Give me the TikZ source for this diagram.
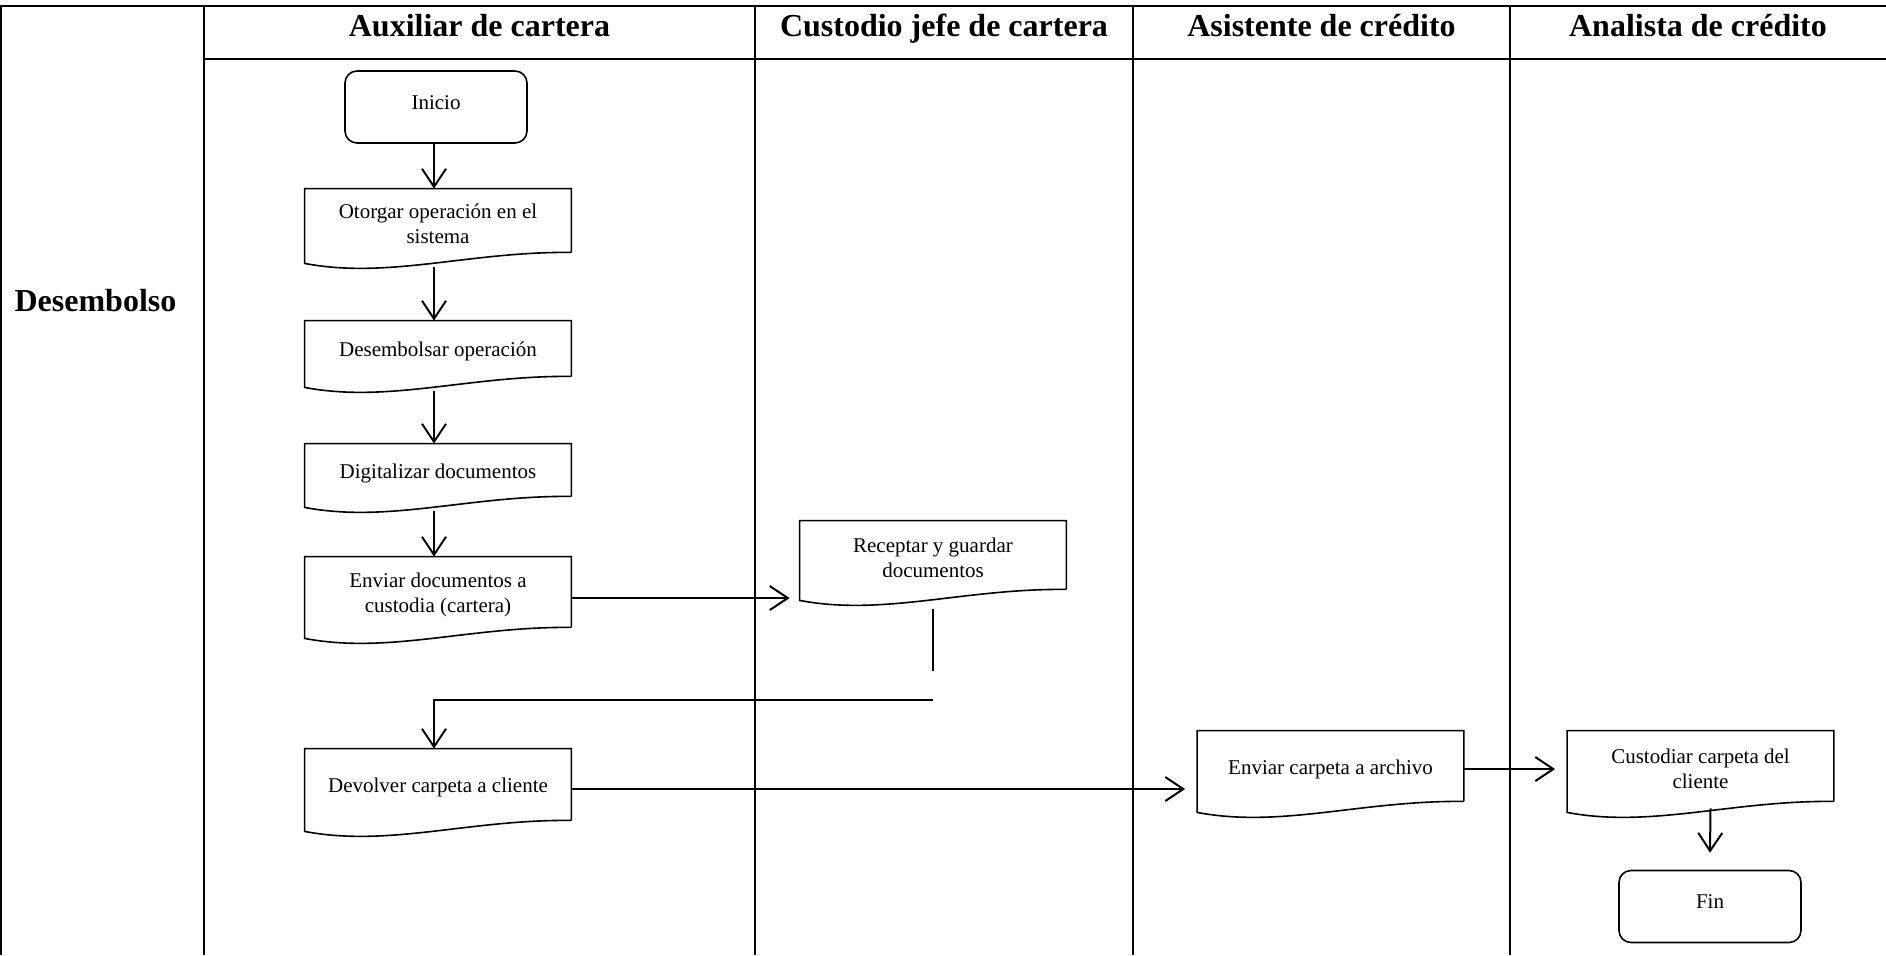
\documentclass[tikz,border=0pt]{standalone}
\usepackage{fontspec}
\setmainfont{Liberation Serif}
\usetikzlibrary{arrows.meta,calc}

% Document symbol: straight top and sides, wavy bottom edge.
% The text sits 1.5pt below the middle of the frame, so the frame is
% drawn 1.5pt above the node's own box.
\newcommand\docoutline[1]{%
  \draw[docline] ([yshift=1.5pt]#1.south east) -- ([yshift=1.5pt]#1.north east)
    -- ([yshift=1.5pt]#1.north west)
    -- ([yshift=-4pt]#1.south west)
    .. controls ([xshift=42pt,yshift=-12pt]#1.south west)
       and ([xshift=82pt,yshift=2pt]#1.south west) .. ([yshift=1.5pt]#1.south east);}

\begin{document}
\begin{tikzpicture}[x=0.5pt,y=-0.5pt,
  gridline/.style={line width=1pt},
  lanehead/.style={font=\bfseries\fontsize{16}{18}\selectfont, anchor=base},
  txt/.style={font=\fontsize{10.5}{12.5}\selectfont, align=flush center,
    inner sep=0pt},
  docbox/.style={txt, text width=112pt, minimum width=133pt, yshift=-1.5pt},
  docline/.style={line width=0.8pt},
  term/.style={txt, draw, rounded corners=6pt, line width=0.8pt,
    text height=8pt, text depth=6pt, minimum width=91pt, minimum height=36pt},
  flow/.style={line width=1pt, -{Straight Barb[length=9pt,width=12pt]}},
  plain/.style={line width=1pt}]

\useasboundingbox (0,0) rectangle (1886,955);

% swimlane table
\draw[gridline] (1,955) -- (1,6) -- (1886,6);
\draw[gridline] (204,59) -- (1886,59);
\foreach \xx in {204,755,1133,1510}
  \draw[gridline] (\xx,6) -- (\xx,955);

\node[lanehead] (hA) at (479.5,36) {Auxiliar de cartera};
\node[lanehead] (hB) at (944,36) {Custodio jefe de cartera};
\node[lanehead] (hC) at (1321.5,36) {Asistente de crédito};
\node[lanehead] (hD) at (1698,36) {Analista de crédito};
\node[lanehead] (phase) at (95.5,311.5) {Desembolso};

% process steps
\node[term] (ini) at (436,107) {Inicio};
\node[docbox, minimum height=31.5pt] (otg) at (438,220.5) {Otorgar operación en el sistema};
\node[docbox, minimum height=27.5pt] (des) at (438,348.5) {Desembolsar operación};
\node[docbox, minimum height=26pt] (dig) at (438,470) {Digitalizar documentos};
\node[docbox, minimum height=35pt] (env) at (438,592) {Enviar documentos a custodia (cartera)};
\node[docbox, minimum height=34pt] (rec) at (933,555) {Receptar y guardar documentos};
\node[docbox, minimum height=35.5pt] (dev) at (438,784.5) {Devolver carpeta a cliente};
\node[docbox, minimum height=35pt] (arc) at (1330.5,766) {Enviar carpeta a archivo};
\node[docbox, minimum height=35pt] (cus) at (1700.5,766) {Custodiar carpeta del cliente};
\node[term] (fin) at (1710,906.5) {Fin};

\foreach \n in {otg,des,dig,env,rec,dev,arc,cus}
  \docoutline{\n};

% connectors
\draw[flow] ([xshift=-1pt]ini.south) -- ([xshift=-2pt,yshift=1.5pt]otg.north);
\draw[flow] ([xshift=-2pt,yshift=-6pt]otg.south) -- ([xshift=-2pt,yshift=1.5pt]des.north);
\draw[flow] ([xshift=-2pt,yshift=-6pt]des.south) -- ([xshift=-2pt,yshift=1.5pt]dig.north);
\draw[flow] ([xshift=-2pt,yshift=-6pt]dig.south) -- ([xshift=-2pt,yshift=1.5pt]env.north);
\draw[flow] ([yshift=-1.5pt]env.east) -- ([xshift=-5pt,yshift=-1.5pt]env.east -| rec.west);
\draw[plain] ([yshift=-8.5pt]rec.south) -- ++(0,-31pt) coordinate (recend);
\coordinate (back) at ($(rec.south)+(0,-54pt)$);
\draw[flow] (back) -| ([xshift=-2pt,yshift=1.5pt]dev.north);
\draw[flow] ([yshift=-0.75pt]dev.east) -- ([xshift=-6pt,yshift=-0.75pt]dev.east -| arc.west);
\draw[flow] (arc.east) -- ([xshift=-6pt]arc.east -| cus.west);
\draw[flow] ([xshift=5pt,yshift=-2pt]cus.south) -- ([yshift=8.5pt]fin.north);

\end{tikzpicture}
\end{document}
